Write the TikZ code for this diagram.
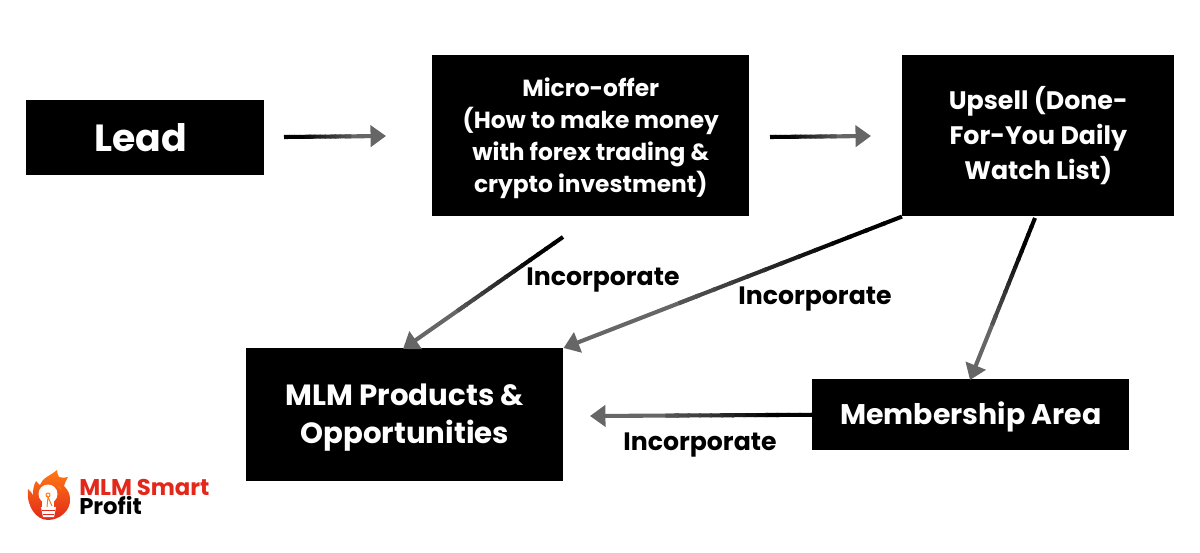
\documentclass[tikz,border=0pt]{standalone}
\usepackage{fontspec}
\setmainfont{Poppins}
\usepackage{tikz}
\usetikzlibrary{arrows.meta, calc}
\definecolor{tipgray}{HTML}{666666}
\definecolor{logored}{HTML}{E2281A}
\definecolor{logoorange}{HTML}{FF7A14}
\tikzset{
x=0.25mm, y=-0.25mm,
box/.style={fill=black, text=white, font=\bfseries\fontsize{18}{25}\selectfont, align=center, inner sep=0pt, anchor=north west}, % black boxes
tag/.style={font=\bfseries\fontsize{17.9}{20}\selectfont, text=black, inner sep=0pt}, % the Incorporate labels
flowtip/.style={line width=2.9pt, tipgray, -{Triangle[length=11pt, width=15pt]}},
}
% connector that goes from black to gray
\newcommand{\flow}[2]{
    \draw[flowtip] ($(#1)!0.6!(#2)$) -- (#2);
    \foreach \t [evaluate=\t as \u using \t+0.06, evaluate=\t as \m using {min(100, max(0, 100-(\t-0.15)*180))}] in {0,0.05,...,0.65}
        \draw[line width=2.9pt, black!\m!tipgray] ($(#1)!\t!(#2)$) -- ($(#1)!\u!(#2)$);
}

\begin{document}
\begin{tikzpicture}
    \useasboundingbox (0,0) rectangle (1200,553);
    % boxes
    \node[box, minimum width=59.5mm, minimum height=18.75mm, font=\bfseries\fontsize{26.9}{30}\selectfont] (lead) at (26,100) {Lead\hspace*{2.25mm}};
    \node[box, minimum width=79.25mm, minimum height=40.25mm, font=\bfseries\fontsize{16.6}{22.6}\selectfont] (micro) at (432,55) {\rule{0pt}{1.02em}Micro-offer\\(How to make money\\with forex trading \&\\crypto investment)};
    \node[box, minimum width=68mm, minimum height=40.25mm] (upsell) at (902,55) {Upsell (Done-\\For-You Daily\\Watch List)};
    \node[box, minimum width=79.25mm, minimum height=33.25mm, font=\bfseries\fontsize{20.8}{27}\selectfont] (mlm) at (246,348) {\rule{0pt}{.95em}MLM Products \&\\Opportunities};
    \node[box, minimum width=79.25mm, minimum height=17.75mm, font=\bfseries\fontsize{20.2}{24}\selectfont] (member) at (812,379) {\rule{0pt}{.95em}Membership Area};
    % free ends of the connectors
    \coordinate (a1) at (284,137);
    \coordinate (a2) at (386,136);
    \coordinate (b1) at (770,137);
    \coordinate (b2) at (871,136);
    \coordinate (c1) at (563,237);
    \coordinate (c2) at (403,349);
    \coordinate (d1) at (1035,218);
    \coordinate (d2) at (970,380);
    \coordinate (e2) at (590,416);
    \flow{a1}{a2}
    \flow{b1}{b2}
    \flow{c1}{c2}
    \flow{upsell.south west}{mlm.north east}
    \flow{d1}{d2}
    \flow{member.west}{e2}
    % labels
    \node[tag] (inc1) at (603,280) {Incorporate};
    \node[tag] (inc2) at (815,299) {Incorporate};
    \node[tag] (inc3) at (700,445) {Incorporate};
    % logo
    \shade[top color=logoorange, bottom color=logored] (48,520) .. controls (36,520) and (26,506) .. (28,489)
        .. controls (30,491) and (32,493) .. (33,495) .. controls (33,488) and (34,485) .. (36,481)
        .. controls (38,483) and (39,484) .. (40,485) .. controls (42,478) and (50,476) .. (57,470)
        .. controls (57,473) and (58,475) .. (59,477) .. controls (62,478) and (65,478) .. (68,477)
        .. controls (66,480) and (65,483) .. (64,486) .. controls (68,490) and (70,494) .. (70,499)
        .. controls (71,510) and (60,520) .. (48,520) -- cycle;
    \fill[white] (48,494) circle (9.5);
    \fill[white] (42,500) -- (54,500) -- (54,507) -- (42,507) -- cycle;
    \draw[logoorange, line width=0.6pt] (61,490) arc[start angle=-20, end angle=-60, radius=8];
    \draw[logoorange, line width=0.7pt] (47,507) -- (48,497) -- (52,506) (48,495) circle (2);
    \fill[white] (41,507) -- (56,507) -- (54,517) -- (43,517) -- cycle;
    \draw[logored, line width=0.7pt] (42,510) -- (55,510) (43,514) -- (54,514);
    \node[anchor=west, inner sep=0pt, align=left, font=\bfseries\fontsize{16.2}{13.5}\selectfont] (logotext) at (79,497) {\textcolor{logored}{MLM Smart}\\Profit};
\end{tikzpicture}
\end{document}
